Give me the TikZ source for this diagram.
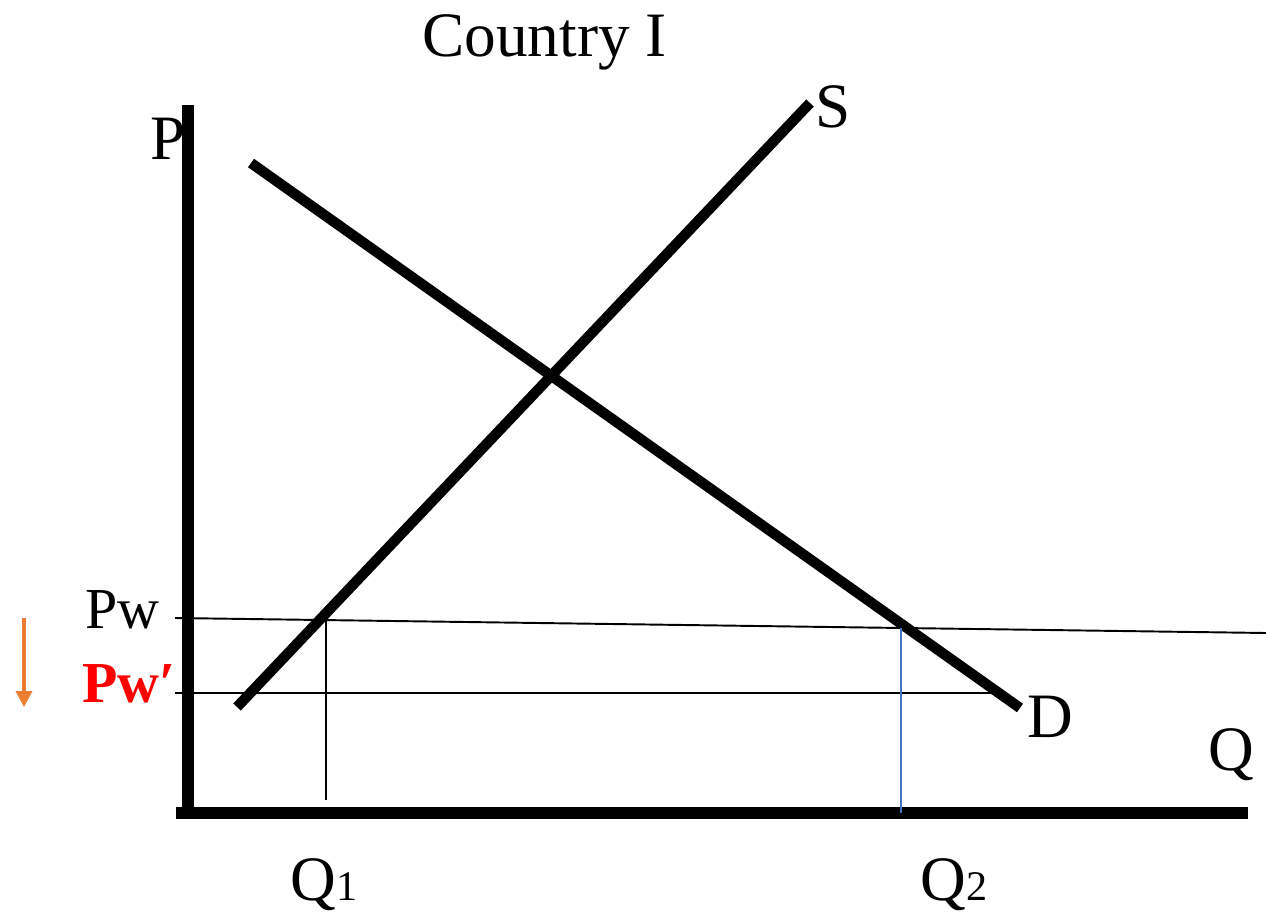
\documentclass[tikz,border=0pt]{standalone}
\usepackage{fontspec}
\setmainfont{Liberation Serif}
\usetikzlibrary{arrows.meta, positioning}
\definecolor{curveBlack}{HTML}{000000}
\definecolor{priceRed}{HTML}{FF0000}
\definecolor{dropOrange}{HTML}{ED7D31}
\definecolor{qBlue}{HTML}{4472C4}
\newcommand{\sublabel}[2]{#1{\fontsize{24}{26}\selectfont #2}}

\begin{document}
\begin{tikzpicture}[
  x=0.02cm, y=-0.02cm,
  every node/.style={font=\fontsize{36}{40}\selectfont, inner sep=0pt, anchor=base west},
  axis/.style={line width=6.8pt, curveBlack},
  curve/.style={line width=5.9pt, curveBlack},
  guide/.style={line width=1.1pt, curveBlack},
  pricelab/.style={anchor=base east, font=\fontsize{33}{36}\selectfont}
]
  \useasboundingbox (0,0) rectangle (1266,915);
  % axes
  \coordinate (ytop) at (188,105);
  \coordinate (origin) at (188,813);
  \coordinate (xleft) at (176,813);
  \coordinate (xright) at (1248,813);
  \draw[axis] (ytop) -- (origin |- xright);
  \draw[axis] (xleft) -- (xright);
  % supply and demand
  \coordinate (s0) at (237,707);
  \coordinate (s1) at (810,103);
  \coordinate (d0) at (251,163);
  \coordinate (d1) at (1020,708);
  \draw[curve] (s0) -- (s1);
  \draw[curve] (d0) -- (d1);
  % world prices
  \coordinate (pw0) at (175,618);
  \coordinate (pw1) at (1266,633);
  \coordinate (pwb0) at (175,693);
  \coordinate (pwb1) at (999,693);
  \draw[guide] (pw0) -- (pw1);
  \draw[guide] (pwb0) -- (pwb1);
  % quantities
  \coordinate (q1top) at (326,620);
  \coordinate (q1bot) at (326,800);
  \coordinate (q2top) at (901,628);
  \coordinate (q2bot) at (901,813);
  \draw[line width=0.7pt] (q1top) -- (q1bot);
  \draw[line width=0.7pt, qBlue] (q2top) -- (q2bot);
  % price drop
  \coordinate (drop0) at (24,618);
  \coordinate (drop1) at (24,707);
  \draw[dropOrange, line width=2pt, -{Triangle[length=9pt, width=9pt]}] (drop0) -- (drop1);
  % labels
  \node (title) at (422,57) {Country I};
  \node (plab) at (150,160) {P};
  \node (slab) at (815,128) {S};
  \node (dlab) at (1027,737) {D};
  \node (qlab) at (1208,770) {Q};
  \node[pricelab] (pwlab) at (160,628) {Pw};
  \node[pricelab, text=priceRed, font=\fontsize{33}{36}\selectfont\bfseries] (pwblab) at (176,702) {Pw′};
  \node (q1lab) at (290,900) {\sublabel{Q}{1}};
  \node (q2lab) at (920,900) {\sublabel{Q}{2}};
\end{tikzpicture}
\end{document}
